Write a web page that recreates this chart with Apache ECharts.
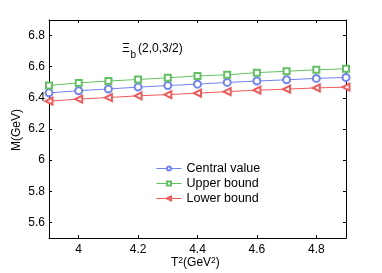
<!DOCTYPE html>
<html><head><meta charset="utf-8">
<script src="https://cdn.jsdelivr.net/npm/echarts@6/dist/echarts.min.js"></script>
<style>html,body{margin:0;padding:0;background:#fff}#c{width:382px;height:273px}</style>
</head><body><div id="c"></div>
<script>
const T2 = [3.9, 4.0, 4.1, 4.2, 4.3, 4.4, 4.5, 4.6, 4.7, 4.8, 4.9];
const central = [6.432, 6.446, 6.457, 6.469, 6.479, 6.488, 6.499, 6.508, 6.516, 6.525, 6.531];
const upper   = [6.480, 6.496, 6.508, 6.518, 6.529, 6.541, 6.548, 6.562, 6.571, 6.580, 6.587];
const lower   = [6.379, 6.392, 6.402, 6.413, 6.421, 6.430, 6.440, 6.449, 6.456, 6.464, 6.469];
const seriesNames = ['Central value', 'Upper bound', 'Lower bound'];
const xTicks = [4, 4.2, 4.4, 4.6, 4.8];
const yTicks = [5.6, 5.8, 6, 6.2, 6.4, 6.6, 6.8];

const FONT = 'Liberation Sans, Arial, Helvetica, sans-serif';
const pair = arr => T2.map((x, i) => [x, arr[i]]);
const axisCommon = {
  type: 'value', axisLine: {show: true, onZero: false, lineStyle: {color: '#000', width: 1}},
  axisTick: {show: true, inside: true, length: 3, lineStyle: {color: '#000'}},
  splitLine: {show: false}
};
const mk = (c) => ({color: c, borderColor: c, borderWidth: 1});
const chart = echarts.init(document.getElementById('c'), null, {renderer: 'canvas'});
chart.setOption({
  animation: false,
  backgroundColor: '#fff',
  grid: {left: 49, right: 36, top: 20, bottom: 35},
  xAxis: [
    Object.assign({}, axisCommon, {position: 'bottom', min: 3.9, max: 4.9, splitNumber: 5,
      axisLabel: {color: '#000', fontSize: 12, fontFamily: FONT, margin: 6,
        formatter: v => xTicks.some(t => Math.abs(t - v) < 1e-6) ? String(+v.toFixed(1)) : ''}}),
    Object.assign({}, axisCommon, {position: 'top', min: 3.9, max: 4.9, splitNumber: 5, axisLabel: {show: false}})
  ],
  yAxis: [
    Object.assign({}, axisCommon, {position: 'left', min: 5.5, max: 6.9, splitNumber: 7,
      axisLabel: {color: '#000', fontSize: 12, fontFamily: FONT, margin: 4,
        formatter: v => yTicks.some(t => Math.abs(t - v) < 1e-6) ? String(+v.toFixed(1)) : ''}}),
    Object.assign({}, axisCommon, {position: 'right', min: 5.5, max: 6.9, splitNumber: 7, axisLabel: {show: false}})
  ],
  legend: {
    orient: 'vertical', left: 156, top: 162, padding: 0, itemWidth: 25, itemHeight: 5, itemGap: 2,
    textStyle: {fontSize: 12.5, fontFamily: FONT, color: '#000'},
    lineStyle: {width: 1}, itemStyle: {borderWidth: 1},
    data: seriesNames
  },
  series: [
    {name: seriesNames[0], type: 'line', data: pair(central), symbol: 'emptyCircle', symbolSize: 7,
     itemStyle: mk('#7083f5'), lineStyle: {width: 1, color: '#7083f5'}},
    {name: seriesNames[1], type: 'line', data: pair(upper), symbol: 'emptyRect', symbolSize: 6,
     itemStyle: mk('#62c262'), lineStyle: {width: 1, color: '#62c262'}},
    {name: seriesNames[2], type: 'line', data: pair(lower), symbol: 'emptyTriangle', symbolSize: 7, symbolRotate: 90,
     itemStyle: mk('#f25a5a'), lineStyle: {width: 1, color: '#f25a5a'}}
  ],
  graphic: [
    {type: 'text', left: 122, top: 43, style: {text: 'Ξ', fontSize: 12, fontFamily: FONT, fill: '#000'}},
    {type: 'text', left: 130.5, top: 50, style: {text: 'b', fontSize: 10, fontFamily: FONT, fill: '#000'}},
    {type: 'text', left: 138, top: 43, style: {text: '(2,0,3/2)', fontSize: 12, fontFamily: FONT, fill: '#000'}},
    {type: 'text', left: 171, top: 256, style: {
      text: '{n|T}{s|2}{n|(GeV}{s|2}{n|)}',
      rich: {n: {fontSize: 12, fontFamily: FONT, fill: '#000', verticalAlign: 'bottom'},
             s: {fontSize: 8.5, fontFamily: FONT, fill: '#000', verticalAlign: 'top', padding: [0,0,4,0]}}}},
    {type: 'text', rotation: Math.PI / 2, x: 11, y: 151, style: {text: 'M(GeV)', fontSize: 12, fontFamily: FONT, fill: '#000'}}
  ]
});
</script></body></html>
